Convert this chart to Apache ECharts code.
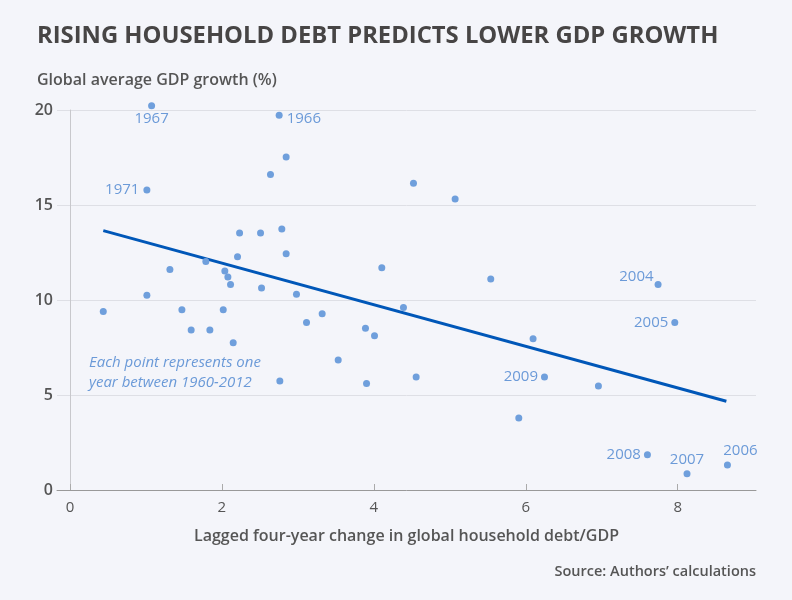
<!DOCTYPE html>
<html>
<head>
<meta charset="utf-8">
<script src="https://cdn.jsdelivr.net/npm/echarts@6/dist/echarts.min.js"></script>
<style>
html,body{margin:0;padding:0;background:#f4f5fa;}
#chart{width:792px;height:600px;}
</style>
</head>
<body>
<div id="chart"></div>
<script>
// Lagged four-year change in global household debt/GDP (x) vs global average GDP growth % (y)
const debtChange = [1.075, 2.754, 2.846, 2.640, 1.013, 2.233, 2.509, 2.789, 2.206, 2.846,
  1.789, 1.316, 2.039, 2.079, 2.114, 2.522, 2.982, 1.013, 4.522, 5.070,
  4.105, 5.539, 4.390, 0.439, 1.474, 1.596, 1.842, 2.018, 2.149, 2.763,
  3.114, 3.320, 3.531, 3.890, 4.009, 3.904, 7.741, 7.961, 6.096, 4.557,
  6.246, 6.956, 5.908, 7.601, 8.122, 8.654];
const gdpGrowth = [20.23, 19.72, 17.53, 16.60, 15.79, 13.53, 13.53, 13.74, 12.28, 12.44,
  12.02, 11.60, 11.53, 11.21, 10.82, 10.63, 10.30, 10.25, 16.14, 15.32,
  11.70, 11.11, 9.61, 9.39, 9.49, 8.42, 8.42, 9.49, 7.75, 5.74,
  8.81, 9.28, 6.84, 8.51, 8.12, 5.60, 10.81, 8.82, 7.96, 5.95,
  5.95, 5.47, 3.79, 1.86, 0.86, 1.32];
const yearLabels = ['1967', '1966', '', '', '1971', '', '', '', '', '',
  '', '', '', '', '', '', '', '', '', '',
  '', '', '', '', '', '', '', '', '', '',
  '', '', '', '', '', '', '2004', '2005', '', '',
  '2009', '', '', '2008', '2007', '2006'];
// fitted trend line endpoints
const trendX = [0.439, 8.64];
const trendY = [13.65, 4.67];
const xTicks = [0, 2, 4, 6, 8];
const yTicks = [0, 5, 10, 15, 20];

const FONT = "'Open Sans', 'Noto Sans', sans-serif";
const pointColor = '#6f9fdc';
const labelColor = '#6b9ad8';

const labelPlacement = {
  '1967': {position: 'bottom', distance: 2, offset: [0, 0]},
  '1966': {position: 'right', distance: 4, offset: [0, 3]},
  '1971': {position: 'left', distance: 4, offset: [0, 0]},
  '2004': {position: 'left', distance: 1, offset: [0, -8]},
  '2005': {position: 'left', distance: 3, offset: [0, 0]},
  '2009': {position: 'left', distance: 3, offset: [0, 0]},
  '2008': {position: 'left', distance: 3, offset: [0, 0]},
  '2007': {position: 'top', distance: 3, offset: [0, 0]},
  '2006': {position: 'top', distance: 3, offset: [13, 0]}
};

const scatterData = debtChange.map((x, i) => {
  const yr = yearLabels[i];
  const item = {value: [x, gdpGrowth[i]]};
  if (yr) {
    const p = labelPlacement[yr];
    item.label = {
      show: true, formatter: yr, position: p.position, distance: p.distance, offset: p.offset,
      color: labelColor, fontSize: 15, fontFamily: FONT
    };
  }
  return item;
});

const chart = echarts.init(document.getElementById('chart'), null, {renderer: 'canvas'});
chart.setOption({
  backgroundColor: '#f4f5fa',
  animation: false,
  title: [
    {text: 'RISING HOUSEHOLD DEBT PREDICTS LOWER GDP GROWTH', left: 37, top: 24, padding: 0,
     textStyle: {fontFamily: FONT, fontSize: 23.8, fontWeight: 'bold', color: '#474545'}},
    {text: 'Global average GDP growth (%)', left: 37, top: 72, padding: 0,
     textStyle: {fontFamily: FONT, fontSize: 16, fontWeight: 600, color: '#555555'}},
    {text: 'Source: Authors\u2019 calculations', right: 36, top: 564, padding: 0,
     textStyle: {fontFamily: FONT, fontSize: 14.5, fontWeight: 600, color: '#555555'}}
  ],
  grid: {left: 57, right: 36, top: 110, bottom: 110},
  xAxis: {
    type: 'value', min: -0.17, max: 9.03,
    name: 'Lagged four-year change in global household debt/GDP',
    nameLocation: 'middle', nameGap: 38,
    nameTextStyle: {fontFamily: FONT, fontSize: 16, fontWeight: 600, color: '#555555'},
    axisLine: {show: true, lineStyle: {color: '#999999', width: 1}},
    axisTick: {show: true, inside: true, length: 6, lineStyle: {color: '#aaaaaa'}, customValues: xTicks},
    axisLabel: {customValues: xTicks, margin: 10, fontFamily: FONT, fontSize: 15, fontWeight: 500, color: '#555555'},
    splitLine: {show: false}
  },
  yAxis: {
    type: 'value', min: 0, max: 20, interval: 5,
    axisLine: {show: true, lineStyle: {color: '#c8c8cc', width: 1}},
    axisTick: {show: false},
    axisLabel: {customValues: yTicks, margin: 4, fontFamily: FONT, fontSize: 16, fontWeight: 600, color: '#555555'},
    splitLine: {show: true, lineStyle: {color: '#dedfe5', width: 1}}
  },
  graphic: [
    {type: 'text', left: 89, top: 353, style: {
      text: 'Each point represents one\nyear between 1960-2012',
      fontFamily: FONT, fontSize: 15, fontStyle: 'italic', lineHeight: 20, fill: labelColor}}
  ],
  series: [
    {type: 'scatter', data: scatterData, symbolSize: 7, clip: false,
     itemStyle: {color: pointColor, opacity: 1}, z: 3},
    {type: 'line', data: trendX.map((x, i) => [x, trendY[i]]), symbol: 'none',
     lineStyle: {color: '#0057b8', width: 3}, z: 2}
  ]
});
</script>
</body>
</html>
